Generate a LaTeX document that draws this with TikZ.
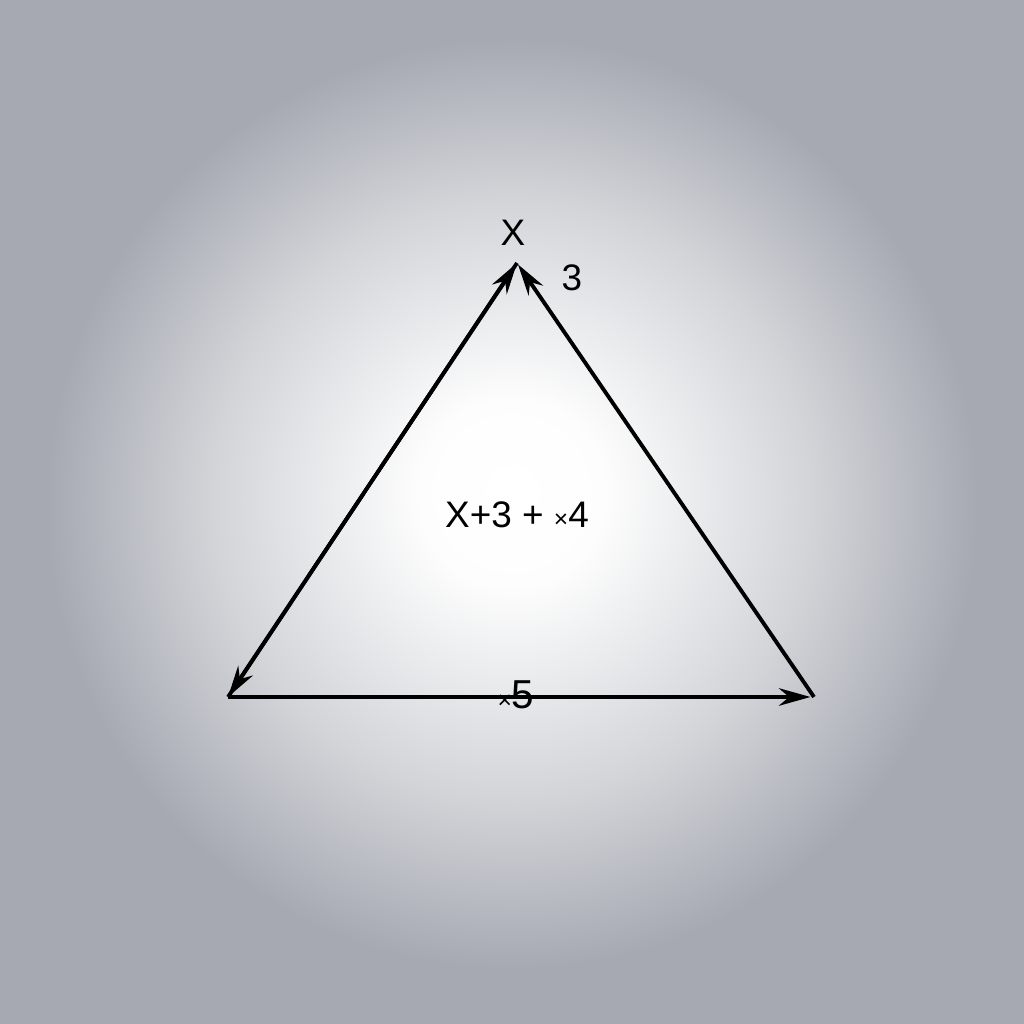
\documentclass[tikz,border=0pt]{standalone}
\usepackage{fontspec}
\setmainfont{Liberation Sans}
\usetikzlibrary{arrows.meta}
\definecolor{bgedge}{RGB}{166,169,178}
\definecolor{bgmid}{RGB}{210,212,216}
\pgfdeclareradialshading{glow}{\pgfpoint{0bp}{6bp}}{%
  color(0bp)=(white); color(26bp)=(white!96!bgmid); color(85bp)=(bgmid);
  color(132bp)=(bgedge); color(215bp)=(bgedge)}
\tikzset{
  edge/.style = {line width=1.1pt, black},
  tip/.style = {-{Stealth[length=9pt,width=5pt]}},
  lbl/.style = {inner sep=0pt, font=\fontsize{10.5}{12}\selectfont}
}
\newcommand{\smalltimes}{{\fontsize{7}{8}\selectfont ×}}
\begin{document}
\begin{tikzpicture}
  \useasboundingbox (0,0) rectangle (10.24,10.24);
  \begin{scope}
    \clip (0,0) rectangle (10.24,10.24);
    \node[inner sep=0pt] (bg) at (5.12,5.12) {\pgfuseshading{glow}};
  \end{scope}
  %\draw[help lines] (0,0) grid (10,10);
  \coordinate (A) at (5.17,7.61);
  \coordinate (B) at (2.28,3.27);
  \coordinate (C) at (8.14,3.27);
  \draw[edge, tip] (B) -- (A);
  \draw[edge, tip] (A) -- (B);
  \draw[edge, tip, shorten >=0.5pt] (C) -- (A);
  \draw[edge, tip, shorten >=1pt] (B) -- (C);
  \node[lbl] (X) at (5.13,7.91) {X};
  \node[lbl] (R) at (5.72,7.46) {3};
  \node[lbl] (M) at (5.17,5.09) {X+3 + \smalltimes4};
  \node[lbl, font=\fontsize{11.5}{12}\selectfont] (S) at (5.16,3.29) {\smalltimes5};
\end{tikzpicture}
\end{document}
